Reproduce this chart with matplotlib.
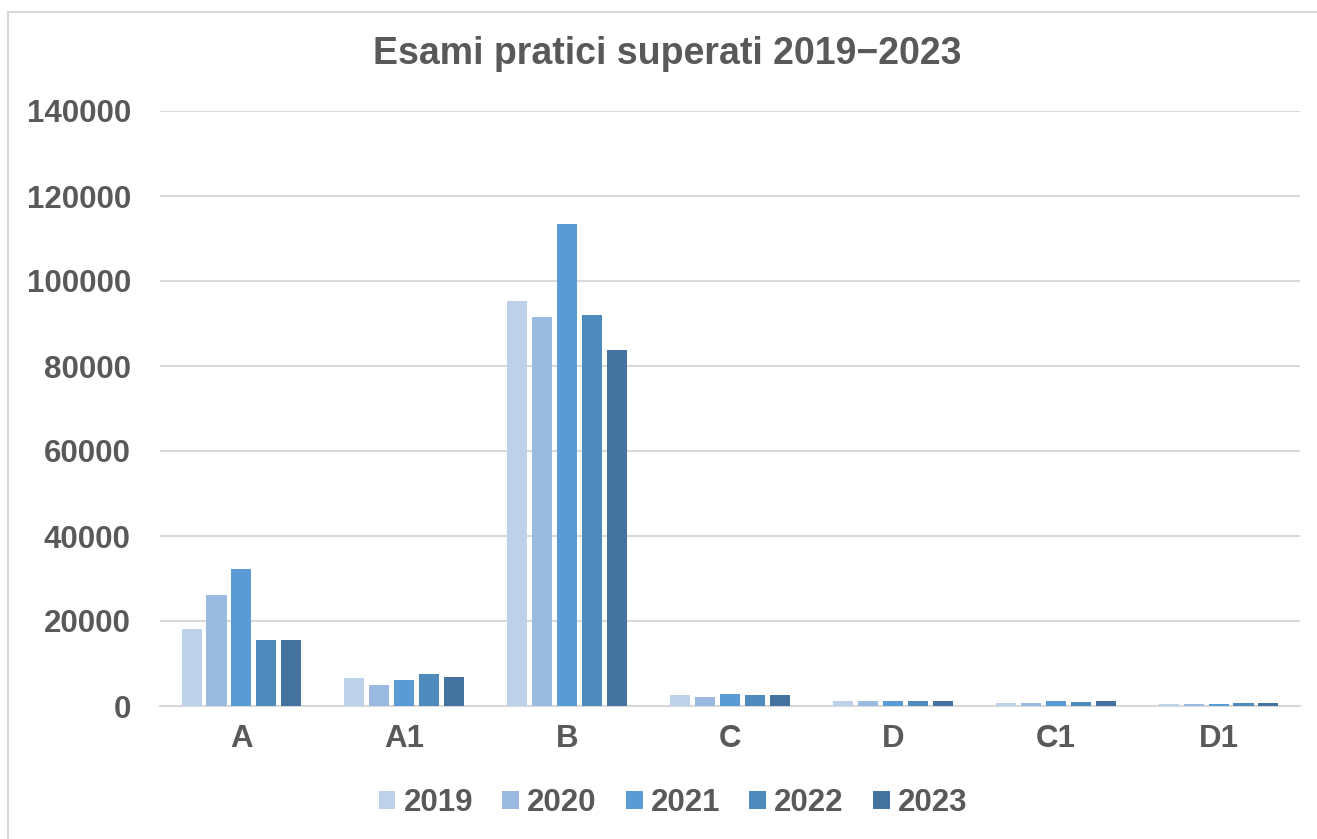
import numpy as np
import matplotlib.pyplot as plt
from matplotlib.patches import Rectangle

categorie = ['A', 'A1', 'B', 'C', 'D', 'C1', 'D1']
anni = ['2019', '2020', '2021', '2022', '2023']
v2019 = [18100, 6600, 95300, 2600, 1100, 800, 500]
v2020 = [26100, 4900, 91500, 2200, 1200, 800, 400]
v2021 = [32200, 6100, 113400, 2800, 1100, 1100, 400]
v2022 = [15500, 7500, 92000, 2600, 1100, 1000, 600]
v2023 = [15500, 6800, 83800, 2600, 1100, 1100, 600]
valori = [v2019, v2020, v2021, v2022, v2023]
colori = ['#BDD1EA', '#9BBAE0', '#5B9BD5', '#4F8ABD', '#44739F']

plt.rcParams['font.family'] = ['Liberation Sans', 'DejaVu Sans']
plt.rcParams['font.weight'] = 'bold'
grigio = '#595959'

fig = plt.figure(figsize=(13.17, 8.39), dpi=100)
ax = fig.add_axes([160/1317, 1 - 706/839, 1140/1317, 595/839])

# cornice esterna del grafico
fig.patches.append(Rectangle((8/1317, -0.05), 1.1, 1 - 12/839 + 0.05,
                             transform=fig.transFigure, fill=False,
                             edgecolor='#D9D9D9', linewidth=1.5))

x = np.arange(len(categorie))
w = 0.123
step = 0.153
for i in range(5):
    ax.bar(x + (i - 2) * step, valori[i], width=w, color=colori[i], label=anni[i], zorder=3)

ax.set_xlim(-0.5, 6.5)
ax.set_ylim(0, 140000)
ax.set_yticks(range(0, 140001, 20000))
ax.grid(axis='y', color='#D9D9D9', linewidth=1.5, zorder=0)
ax.set_xticks(x)
ax.set_xticklabels(categorie)
ax.tick_params(length=0, labelsize=22.5, labelcolor=grigio)
ax.tick_params(axis='y', pad=21)
ax.tick_params(axis='x', pad=13)
for s in ['top', 'right', 'left']:
    ax.spines[s].set_visible(False)
ax.spines['bottom'].set_color('#D9D9D9')
ax.spines['bottom'].set_linewidth(1.5)

fig.text(0.507, 1 - 54/839, 'Esami pratici superati 2019\u22122023', ha='center', va='center',
         fontsize=27, fontweight='bold', color=grigio)

leg = fig.legend(loc='center', bbox_to_anchor=(0.511, 1 - 803/839), ncol=5, frameon=False,
                 fontsize=22.5, handlelength=0.54, handleheight=0.54, handletextpad=0.26,
                 columnspacing=0.93, labelcolor=grigio)

fig.savefig('out.png', dpi=100)
